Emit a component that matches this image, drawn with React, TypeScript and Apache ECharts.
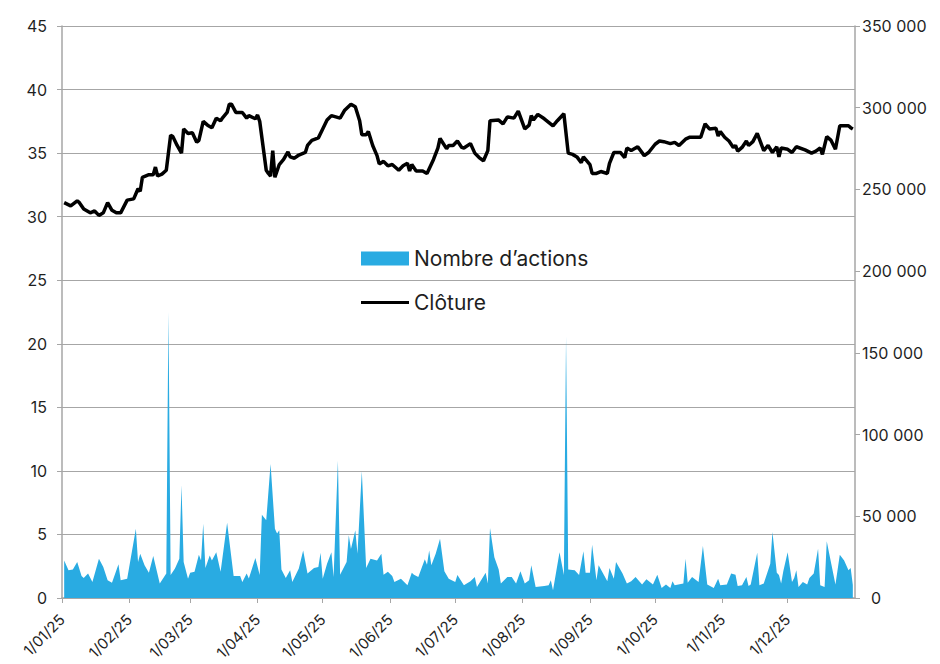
import React, { useEffect, useRef } from "react";
import * as echarts from "echarts";

const DAY = 86400000;
const START = Date.UTC(2025, 0, 1);
const END = Date.UTC(2026, 0, 1);

// Clôture (left axis): day of year (0 = 1 Jan 2025) and closing price
const closeDays = [
  1, 4, 7, 8, 10, 13, 15, 17, 19, 21, 23, 25, 27, 30, 33, 35, 36, 37, 40, 42, 43, 44, 46, 48, 50, 51, 53, 55, 56, 58,
  60, 62, 63, 65, 67, 69, 71, 73, 74, 76, 77, 78, 80, 83, 85, 86, 89, 90, 91, 94, 95, 96, 97, 98, 100, 102, 104, 105,
  107, 109, 112, 113, 115, 118, 120, 122, 124, 128, 130, 133, 135, 137, 138, 140, 141, 143, 145, 146, 148, 150, 152,
  155, 157, 159, 160, 161, 163, 166, 168, 171, 173, 174, 177, 178, 180, 182, 184, 185, 188, 190, 192, 194, 196, 197,
  201, 203, 205, 208, 210, 213, 215, 216, 217, 219, 222, 226, 228, 231, 233, 235, 237, 239, 240, 243, 244, 246, 248,
  251, 252, 254, 257, 259, 260, 262, 265, 268, 270, 273, 275, 277, 280, 282, 284, 287, 289, 294, 296, 298, 301, 302,
  303, 305, 307, 309, 310, 311, 313, 315, 316, 318, 320, 323, 325, 327, 329, 330, 331, 334, 336, 338, 342, 345, 347,
  349, 350, 352, 354, 356, 358, 362, 363, 364,
];
const closeValues = [
  31.1, 30.85, 31.25, 31.1, 30.6, 30.3, 30.45, 30.1, 30.3, 31.1, 30.5, 30.3, 30.3, 31.3, 31.4, 32.2, 32.0, 33.1, 33.3,
  33.3, 33.9, 33.2, 33.35, 33.65, 36.4, 36.3, 35.6, 35.0, 36.9, 36.55, 36.6, 35.85, 36.0, 37.5, 37.2, 37.0, 37.75,
  37.55, 37.8, 38.2, 38.85, 38.85, 38.2, 38.2, 37.75, 37.95, 37.7, 38.0, 37.5, 33.65, 33.4, 33.2, 35.2, 33.1, 34.1,
  34.5, 35.1, 34.7, 34.6, 34.85, 35.05, 35.6, 36.0, 36.2, 36.9, 37.6, 37.95, 37.75, 38.35, 38.85, 38.65, 37.55, 36.45,
  36.45, 36.7, 35.6, 34.8, 34.15, 34.35, 34.0, 34.1, 33.65, 34.0, 34.2, 33.6, 34.1, 33.6, 33.6, 33.4, 34.5, 35.4,
  36.15, 35.35, 35.6, 35.6, 35.95, 35.45, 35.4, 35.75, 35.0, 34.65, 34.4, 35.2, 37.55, 37.6, 37.3, 37.85, 37.75, 38.3,
  36.9, 37.2, 37.95, 37.6, 38.05, 37.7, 37.15, 37.55, 38.1, 35.0, 34.9, 34.7, 34.25, 34.7, 34.1, 33.4, 33.4, 33.55,
  33.4, 34.2, 35.05, 35.05, 34.65, 35.4, 35.2, 35.5, 34.8, 35.05, 35.7, 35.95, 35.9, 35.75, 35.85, 35.6, 36.1, 36.25,
  36.25, 37.3, 36.9, 36.95, 36.35, 36.7, 36.25, 35.95, 35.45, 35.6, 35.15, 35.45, 35.95, 35.6, 35.9, 36.55, 35.2,
  35.6, 35.05, 35.5, 34.7, 35.4, 35.3, 35.05, 35.5, 35.25, 35.0, 35.15, 35.4, 34.9, 36.3, 36.0, 35.3, 37.15, 37.15,
  37.0, 36.9,
];

// Nombre d'actions (right axis): day of year and number of shares
const volumeDays = [
  1, 3, 5, 7, 9, 10, 12, 14, 17, 19, 21, 23, 26, 27, 30, 34, 35, 36, 38, 40, 42, 45, 48, 49, 50, 52, 54, 55, 56, 58,
  59, 61, 63, 64, 65, 66, 68, 69, 71, 73, 76, 79, 82, 83, 85, 86, 89, 91, 92, 94, 96, 98, 99, 100, 101, 103, 105, 106,
  109, 111, 113, 116, 118, 119, 120, 122, 124, 125, 127, 128, 131, 132, 133, 135, 136, 138, 140, 142, 145, 147, 148,
  150, 152, 153, 156, 159, 161, 162, 164, 167, 168, 169, 170, 172, 174, 176, 178, 181, 182, 185, 188, 190, 191, 195,
  196, 197, 199, 201, 202, 205, 207, 209, 211, 213, 215, 216, 218, 222, 224, 225, 226, 229, 231, 232, 233, 236, 238,
  240, 241, 243, 244, 246, 247, 251, 252, 254, 255, 258, 260, 262, 264, 267, 269, 272, 274, 276, 278, 280, 281, 282,
  286, 287, 288, 290, 293, 295, 297, 300, 302, 303, 306, 308, 310, 311, 313, 315, 316, 317, 320, 321, 323, 326, 327,
  329, 330, 331, 332, 334, 336, 337, 338, 339, 341, 343, 344, 346, 348, 349, 351, 352, 353, 356, 358, 360, 362, 363,
  364,
];
const volumeValues = [
  23000, 17000, 17500, 22000, 13500, 12200, 15000, 9800, 24000, 19000, 10800, 9400, 20600, 10800, 11800, 42400, 22000,
  27000, 20000, 15500, 25700, 8800, 15000, 175000, 14000, 18000, 24000, 69000, 22000, 11800, 15500, 16000, 26500,
  23000, 45500, 18400, 26000, 23000, 28000, 16000, 46000, 13500, 13500, 9800, 15000, 12000, 24500, 14000, 51000,
  47500, 82000, 42400, 39400, 41400, 17500, 12200, 17000, 9800, 18000, 29000, 15000, 18400, 19000, 27700, 11800,
  21000, 28000, 12900, 84000, 14300, 22000, 38400, 30000, 41400, 27000, 77500, 18400, 24000, 23000, 27000, 14300,
  16000, 13500, 9800, 11800, 7800, 15500, 14300, 12900, 23700, 20400, 29000, 20000, 27000, 36300, 16300, 11800, 9800,
  14000, 7800, 10200, 12900, 6700, 15500, 8800, 42800, 25000, 17500, 8800, 12900, 12900, 8800, 16300, 8800, 10800,
  20000, 6700, 7300, 7800, 10800, 4700, 28000, 14000, 160000, 17500, 17000, 14000, 28600, 15500, 15500, 32600, 10800,
  20000, 10200, 18400, 11800, 22000, 15000, 8800, 10200, 12900, 8200, 11400, 8200, 14300, 6100, 8200, 6100, 10200,
  7800, 8800, 24000, 9400, 12900, 9800, 31800, 8200, 6100, 11800, 7800, 8200, 15000, 14300, 7300, 7800, 12900, 7300,
  8200, 27700, 7800, 8800, 21000, 40400, 15500, 14000, 8800, 16300, 28000, 9800, 12200, 17000, 6700, 9800, 8200,
  12200, 15000, 30200, 7800, 6700, 34700, 28000, 8200, 26500, 23000, 17000, 18400, 8000,
];

const leftMin = 0;
const leftMax = 45;
const leftStep = 5;
const rightMin = 0;
const rightMax = 350000;
const rightStep = 50000;

const volumeName = "Nombre d’actions";
const closeName = "Clôture";

const AXIS_GREY = "#a6a6a6";
const TEXT = "#1f1f1f";
const BLUE = "#29abe2";

export default function App() {
  const ref = useRef<HTMLDivElement>(null);
  useEffect(() => {
    document.body.style.margin = "0";
    if (!ref.current) return;
    const chart = echarts.init(ref.current, undefined, { renderer: "svg" });
    const closeData = closeDays.map((d, i) => [START + d * DAY, closeValues[i]]);
    const volumeData = volumeDays.map((d, i) => [START + d * DAY, volumeValues[i]]);
    chart.setOption({
      animation: false,
      useUTC: true,
      textStyle: { fontFamily: "Inter, 'Noto Sans', sans-serif" },
      grid: { left: 62, right: 85, top: 26, bottom: 66, containLabel: false, outerBoundsMode: "none" },
      legend: {
        orient: "vertical",
        left: 361,
        top: 248,
        padding: 0,
        itemGap: 23,
        itemWidth: 48,
        itemHeight: 14,
        textStyle: { fontSize: 21, color: TEXT },
        data: [
          { name: volumeName, icon: "rect" },
          { name: closeName, icon: "path://M0,0 L48,0 L48,3 L0,3 Z" },
        ],
      },
      xAxis: {
        type: "time",
        min: START,
        max: END,
        splitNumber: 12,
        minInterval: 28 * DAY,
        maxInterval: 31 * DAY,
        axisLine: { show: true, lineStyle: { color: AXIS_GREY, width: 1.5 } },
        axisTick: { show: true, length: 5, lineStyle: { color: AXIS_GREY } },
        splitLine: { show: false },
        axisLabel: {
          rotate: 45,
          fontSize: 15,
          color: TEXT,
          margin: 19,
          hideOverlap: false,
          showMaxLabel: false,
          formatter: (v: number) => {
            const d = new Date(v);
            if (d.getUTCFullYear() !== 2025) return "";
            const m = String(d.getUTCMonth() + 1).padStart(2, "0");
            return `${d.getUTCDate()}/${m}/25`;
          },
        },
      },
      yAxis: [
        {
          type: "value",
          position: "left",
          min: leftMin,
          max: leftMax,
          interval: leftStep,
          axisLine: { show: true, lineStyle: { color: AXIS_GREY, width: 1.5 } },
          axisTick: { show: true, length: 5, lineStyle: { color: AXIS_GREY } },
          splitLine: { show: true, lineStyle: { color: AXIS_GREY, width: 1 } },
          axisLabel: { fontSize: 16, color: TEXT, margin: 15 },
        },
        {
          type: "value",
          position: "right",
          min: rightMin,
          max: rightMax,
          interval: rightStep,
          axisLine: { show: true, lineStyle: { color: AXIS_GREY, width: 1.5 } },
          axisTick: { show: true, length: 5, lineStyle: { color: AXIS_GREY } },
          splitLine: { show: false },
          axisLabel: {
            fontSize: 16,
            color: TEXT,
            margin: 7,
            formatter: (v: number) => (v === 0 ? "{z|0}" : `${v / 1000} 000`),
            rich: { z: { fontSize: 16, color: TEXT, padding: [0, 0, 0, 9] } },
          },
        },
      ],
      series: [
        {
          name: volumeName,
          type: "line",
          yAxisIndex: 1,
          data: volumeData,
          symbol: "none",
          lineStyle: { width: 0, color: BLUE },
          itemStyle: { color: BLUE },
          areaStyle: { color: BLUE, opacity: 1 },
          z: 2,
        },
        {
          name: closeName,
          type: "line",
          yAxisIndex: 0,
          data: closeData,
          symbol: "none",
          lineStyle: { color: "#000000", width: 3.5 },
          itemStyle: { color: "#000000" },
          z: 3,
        },
      ],
    });
    return () => chart.dispose();
  }, []);
  return <div ref={ref} style={{ width: 940, height: 664 }} />;
}
